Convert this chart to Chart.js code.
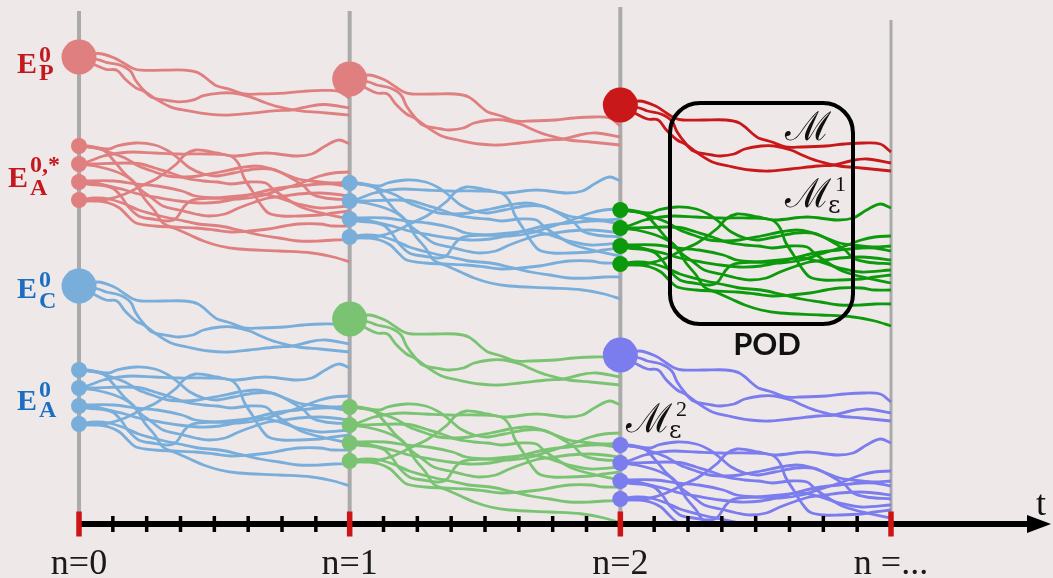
<!DOCTYPE html>
<html><head><meta charset="utf-8">
<script src="https://cdn.jsdelivr.net/npm/chart.js@4.4.1/dist/chart.umd.min.js"></script>
<style>html,body{margin:0;padding:0;background:#EEE8E8;}#wrap{width:1053px;height:578px;position:relative;}</style>
</head><body><div id="wrap"><canvas id="c"></canvas></div>
<script>
// ---- axis data: time in steps n, state value in arbitrary units ----
const stepValues = [0, 1, 2, 3];
const stepLabels = ['n=0', 'n=1', 'n=2', 'n =...'];
const minorTicks = [0.125,0.25,0.375,0.5,0.625,0.75,0.875,
                    1.125,1.25,1.375,1.5,1.625,1.75,1.875,
                    2.125,2.25,2.375,2.5,2.625,2.75,2.875];
const gridTop = [51.3, 51.3, 51.7, 50.4];
const gridBottom = 1.2;
const axisEnd = 3.51;
const arrowAt = 3.547;

// ---- trajectory templates (time in % of a step, drop in state units) ----
const bigTime = [
  [0,7,13,17,20,23,31,39,44,49,51,56,61,67,76,83,90,96,100],
  [0,7,10,15,19,21,24,27,34,37,42,46,52,57,63,68,73,81,89,100],
  [0,6,10,14,17,21,24,28,34,40,48,55,63,73,79,85,91,100]
];
const bigDrop = [
  [0,-0.4,0.1,0.8,1.3,1.5,1.5,1.5,1.8,2.9,3.3,3.7,4.2,4.2,4.1,3.9,3.8,3.9,4.7],
  [0,0.3,0.6,0.9,1.6,2.7,3.8,4.6,5.0,5.1,4.9,4.4,4.1,4.1,4.5,5.1,5.6,6.1,6.3,6.6],
  [0,0.9,1.4,1.5,2.5,3.5,3.9,4.7,5.7,6.1,6.5,6.6,6.4,6.1,6.0,5.6,5.4,5.8]
];
const smallNodeDrop = [0, 1.8, 3.6, 5.4];
const smallTime = [
  [0,3,11,14,21,28,33,37,41,46,51,57,65,71,75,79,83,86,91,100],
  [0,4,9,12,17,21,24,28,31,36,41,46,52,59,74,86,94,100],
  [0,6,11,17,22,28,33,39,44,52,59,65,70,76,81,89,94,100],
  [0,3,17,23,28,34,39,46,51,56,63,69,72,78,83,91,100],
  [0,6,13,19,22,27,31,37,43,48,54,59,65,70,76,81,89,94,100],
  [0,4,9,15,20,28,37,48,56,59,61,64,67,70,75,81,89,94,100],
  [0,3,13,21,29,38,43,51,59,67,74,81,89,94,100],
  [0,3,10,13,16,18,22,27,33,36,39,42,51,59,67,74,81,89,100],
  [0,6,11,17,22,30,37,44,52,59,67,74,81,89,94,100],
  [0,3,11,17,23,29,36,39,43,47,51,57,69,80,86,91,96,100],
  [0,6,11,15,18,21,28,35,43,50,56,63,70,76,81,89,94,100],
  [0,6,11,17,22,30,37,44,52,59,67,74,81,89,94,100]
];
const smallDrop = [
  [0,0,0.3,0,-0.3,-0.1,0.5,1.3,2.2,2.8,3.0,2.7,2.3,2.3,2.7,3.3,4.0,4.8,5.2,5.4],
  [0,0.1,0.4,1.2,2.8,3.8,5.2,6.5,7.7,8.3,8.9,9.5,10.0,10.3,10.5,10.7,11.1,11.6],
  [0,0.2,0.6,1.2,2.0,2.6,3.0,3.1,3.0,2.6,2.2,2.0,2.2,2.8,3.3,3.6,3.7,3.6],
  [1.8,1.8,1.7,1.8,2.2,2.7,3.2,3.5,3.6,3.8,3.6,3.7,4.4,5.5,6.2,6.8,7.3],
  [1.8,2.0,2.5,3.3,4.2,5.2,6.0,6.4,6.8,7.0,6.8,6.2,5.6,5.2,5.0,4.8,4.7,4.8,5.0],
  [1.8,1.5,1.0,0.7,0.6,0.7,0.8,0.8,1.0,1.8,3.2,4.5,5.8,6.7,7.0,7.0,6.9,6.7,6.5],
  [3.6,3.5,3.5,3.8,4.0,4.5,5.0,5.2,5.3,5.0,4.4,3.8,3.0,2.7,2.6],
  [3.6,3.8,4.0,4.3,5.2,6.0,7.0,7.3,7.5,7.2,6.0,5.4,5.2,5.0,4.8,5.2,5.8,6.2,6.0],
  [3.6,3.7,4.0,4.4,4.8,5.2,5.5,5.7,5.6,5.2,4.6,4.2,4.0,3.8,3.8,4.1],
  [5.4,5.5,5.3,4.8,4.0,3.2,1.8,0.9,0.4,0.5,0.7,1.0,0.7,1.0,0.8,0,-0.6,-0.2],
  [5.4,5.5,5.7,6.2,7.0,7.7,8.0,8.1,8.2,8.4,8.6,8.5,8.3,8.0,7.8,7.8,8.0,8.0],
  [5.4,5.2,5.3,5.8,6.4,7.0,7.4,7.8,8.0,8.4,8.9,9.2,9.5,9.5,9.4,9.4]
];

// ---- groups of trajectories ----
const bigStart  = [0, 0, 1, 1, 2, 2];
const bigLevel  = [46.7, 23.8, 44.5, 20.5, 41.9, 16.9];
const bigSpread = [0.88, 1, 1, 1, 1, 1];
const smallStart = [0, 0, 1, 1, 2, 2];
const smallLevel = [37.8, 15.4, 34.1, 11.7, 31.4, 7.9];

// ---- styles ----
const C = { salmon:'#E07F80', blue:'#79AEDB', green:'#79C373', darkred:'#C8181A', darkgreen:'#0C9A0C', purple:'#7B7CEE' };
const bigColor = [C.salmon, C.blue, C.salmon, C.green, C.darkred, C.purple];
const smallColor = [C.salmon, C.blue, C.blue, C.green, C.darkgreen, C.purple];
const LABEL_RED = '#C5181E', LABEL_BLUE = '#1B6EC2';

const datasets = [];
stepValues.forEach((s, i) => datasets.push({
  type:'line', data:[{x:s, y:gridTop[i]}, {x:s, y:gridBottom}],
  borderColor:'#AAAAAA', borderWidth: i === 3 ? 3 : 4, pointRadius:0, order:6, clip:false
}));
bigStart.forEach((s, g) => bigTime.forEach((tt, k) => datasets.push({
  type:'line', data: tt.map((p, j) => ({x: s + p / 100, y: bigLevel[g] - bigSpread[g] * bigDrop[k][j]})),
  borderColor: bigColor[g], borderWidth:2.8, pointRadius:0, tension:0.35, fill:false, order:4
})));
smallStart.forEach((s, g) => smallTime.forEach((tt, k) => datasets.push({
  type:'line', data: tt.map((p, j) => ({x: s + p / 100, y: smallLevel[g] - smallDrop[k][j]})),
  borderColor: smallColor[g], borderWidth:2.8, pointRadius:0, tension:0.35, fill:false, order:4
})));
datasets.push({
  type:'scatter', data: bigStart.map((s, g) => ({x:s, y:bigLevel[g]})),
  backgroundColor: bigColor, pointBackgroundColor: bigColor, pointRadius:17.5, pointBorderWidth:0, borderWidth:0, order:2, clip:false
});
const smallNodes = [], smallNodeColors = [];
smallStart.forEach((s, g) => smallNodeDrop.forEach(d => { smallNodes.push({x:s, y:smallLevel[g] - d}); smallNodeColors.push(smallColor[g]); }));
datasets.push({
  type:'scatter', data: smallNodes, backgroundColor: smallNodeColors, pointBackgroundColor: smallNodeColors,
  pointRadius:8, pointBorderWidth:0, borderWidth:0, order:2, clip:false
});
datasets.push({ type:'line', data:[{x:0, y:0}, {x:axisEnd, y:0}], borderColor:'#000', borderWidth:6, pointRadius:0, order:1, clip:false });
const arrowImg = document.createElement('canvas');
arrowImg.width = 24; arrowImg.height = 18;
(function(){ const a = arrowImg.getContext('2d'); a.beginPath(); a.moveTo(0,0); a.lineTo(24,9); a.lineTo(0,18); a.closePath(); a.fillStyle = '#000'; a.fill(); })();
datasets.push({ type:'scatter', data:[{x:arrowAt, y:0}], pointStyle: arrowImg, pointRadius:12, order:1, clip:false });
datasets.push({
  type:'scatter', data: minorTicks.map(t => ({x:t, y:0})), pointStyle:'line', pointRotation:90, pointRadius:8,
  borderColor:'#000', pointBorderColor:'#000', borderWidth:3.5, pointBorderWidth:3.5, order:0, clip:false
});
datasets.push({
  type:'scatter', data: stepValues.map(t => ({x:t, y:0})), pointStyle:'line', pointRotation:90, pointRadius:12.5,
  borderColor:'#CC1414', pointBorderColor:'#CC1414', borderWidth:5.5, pointBorderWidth:5.5, order:0, clip:false
});

// ---- text annotations (positions in chart units) ----
const stateLabels = [
  {main:'E', sup:'0',   sub:'P', color:LABEL_RED,  t:-0.155, v:45.1, vSup:46.2, vSub:44.4},
  {main:'E', sup:'0,*', sub:'A', color:LABEL_RED,  t:-0.188, v:33.7, vSup:35.2, vSub:32.9},
  {main:'E', sup:'0',   sub:'C', color:LABEL_BLUE, t:-0.155, v:22.6, vSup:23.7, vSub:21.6},
  {main:'E', sup:'0',   sub:'A', color:LABEL_BLUE, t:-0.155, v:11.4, vSup:12.7, vSub:10.7}
];
const mathLabels = [
  {sub:'',  sup:'',  t:2.608, v:38.4},
  {sub:'ε', sup:'1', t:2.608, v:31.7},
  {sub:'ε', sup:'2', t:2.021, v:9.2}
];
const podBox = {t0:2.1835, t1:2.8596, v0:42.1, v1:20.0};

const overlay = {
  id:'overlay',
  afterDatasetsDraw(chart){
    const {ctx, scales:{x, y}} = chart;
    ctx.save();
    const bx0 = x.getPixelForValue(podBox.t0), bx1 = x.getPixelForValue(podBox.t1);
    const by0 = y.getPixelForValue(podBox.v0), by1 = y.getPixelForValue(podBox.v1);
    ctx.beginPath(); ctx.roundRect(bx0, by0, bx1 - bx0, by1 - by0, 30);
    ctx.lineWidth = 4; ctx.strokeStyle = '#000'; ctx.stroke();
    ctx.fillStyle = '#111'; ctx.textBaseline = 'alphabetic';
    ctx.font = 'bold 31px Lato'; ctx.textAlign = 'center';
    ctx.fillText('POD', x.getPixelForValue(2.542), y.getPixelForValue(16.9));
    ctx.font = '36px "Liberation Serif"';
    ctx.fillText('t', x.getPixelForValue(3.554), y.getPixelForValue(0.9));
    stateLabels.forEach(l => {
      const px = x.getPixelForValue(l.t);
      ctx.fillStyle = l.color;
      ctx.textAlign = 'right'; ctx.font = 'bold 30px "Liberation Serif"';
      ctx.fillText(l.main, px, y.getPixelForValue(l.v));
      ctx.textAlign = 'left'; ctx.font = 'bold 24px "Liberation Serif"';
      ctx.fillText(l.sup, px + 2, y.getPixelForValue(l.vSup));
      ctx.fillText(l.sub, px + 2, y.getPixelForValue(l.vSub));
    });
    mathLabels.forEach(l => {
      const px = x.getPixelForValue(l.t), py = y.getPixelForValue(l.v);
      ctx.fillStyle = '#111'; ctx.textAlign = 'left';
      ctx.font = '40px "DejaVu Serif"';
      ctx.fillText('ℳ', px, py);
      const w = ctx.measureText('ℳ').width;
      ctx.font = '24px "DejaVu Serif"';
      if (l.sub) ctx.fillText(l.sub, px + w - 3, py + 6);
      ctx.font = '22px "Liberation Serif"';
      if (l.sup) ctx.fillText(l.sup, px + w + 4, py - 16);
    });
    ctx.restore();
  }
};

new Chart(document.getElementById('c'), {
  data: { datasets },
  options: {
    responsive:true, maintainAspectRatio:false, animation:false, events:[],
    layout:{ padding:0, autoPadding:false },
    plugins:{ legend:{display:false}, tooltip:{enabled:false} },
    scales:{
      x:{ type:'linear', min:-0.2919, max:3.5985,
          grid:{display:false, drawTicks:false}, border:{display:false},
          afterBuildTicks: sc => { sc.ticks = stepValues.map(v => ({value:v})); },
          afterFit: sc => { sc.height = 54; sc.paddingLeft = 0; sc.paddingRight = 0; },
          ticks:{ autoSkip:false, maxRotation:0, minRotation:0, padding:19,
                  font:{family:'Liberation Serif', size:36}, color:'#1a1a1a',
                  callback:(v, i) => stepLabels[i] } },
      y:{ type:'linear', display:false, min:0, max:52.4 }
    }
  },
  plugins:[overlay]
});
</script></body></html>
